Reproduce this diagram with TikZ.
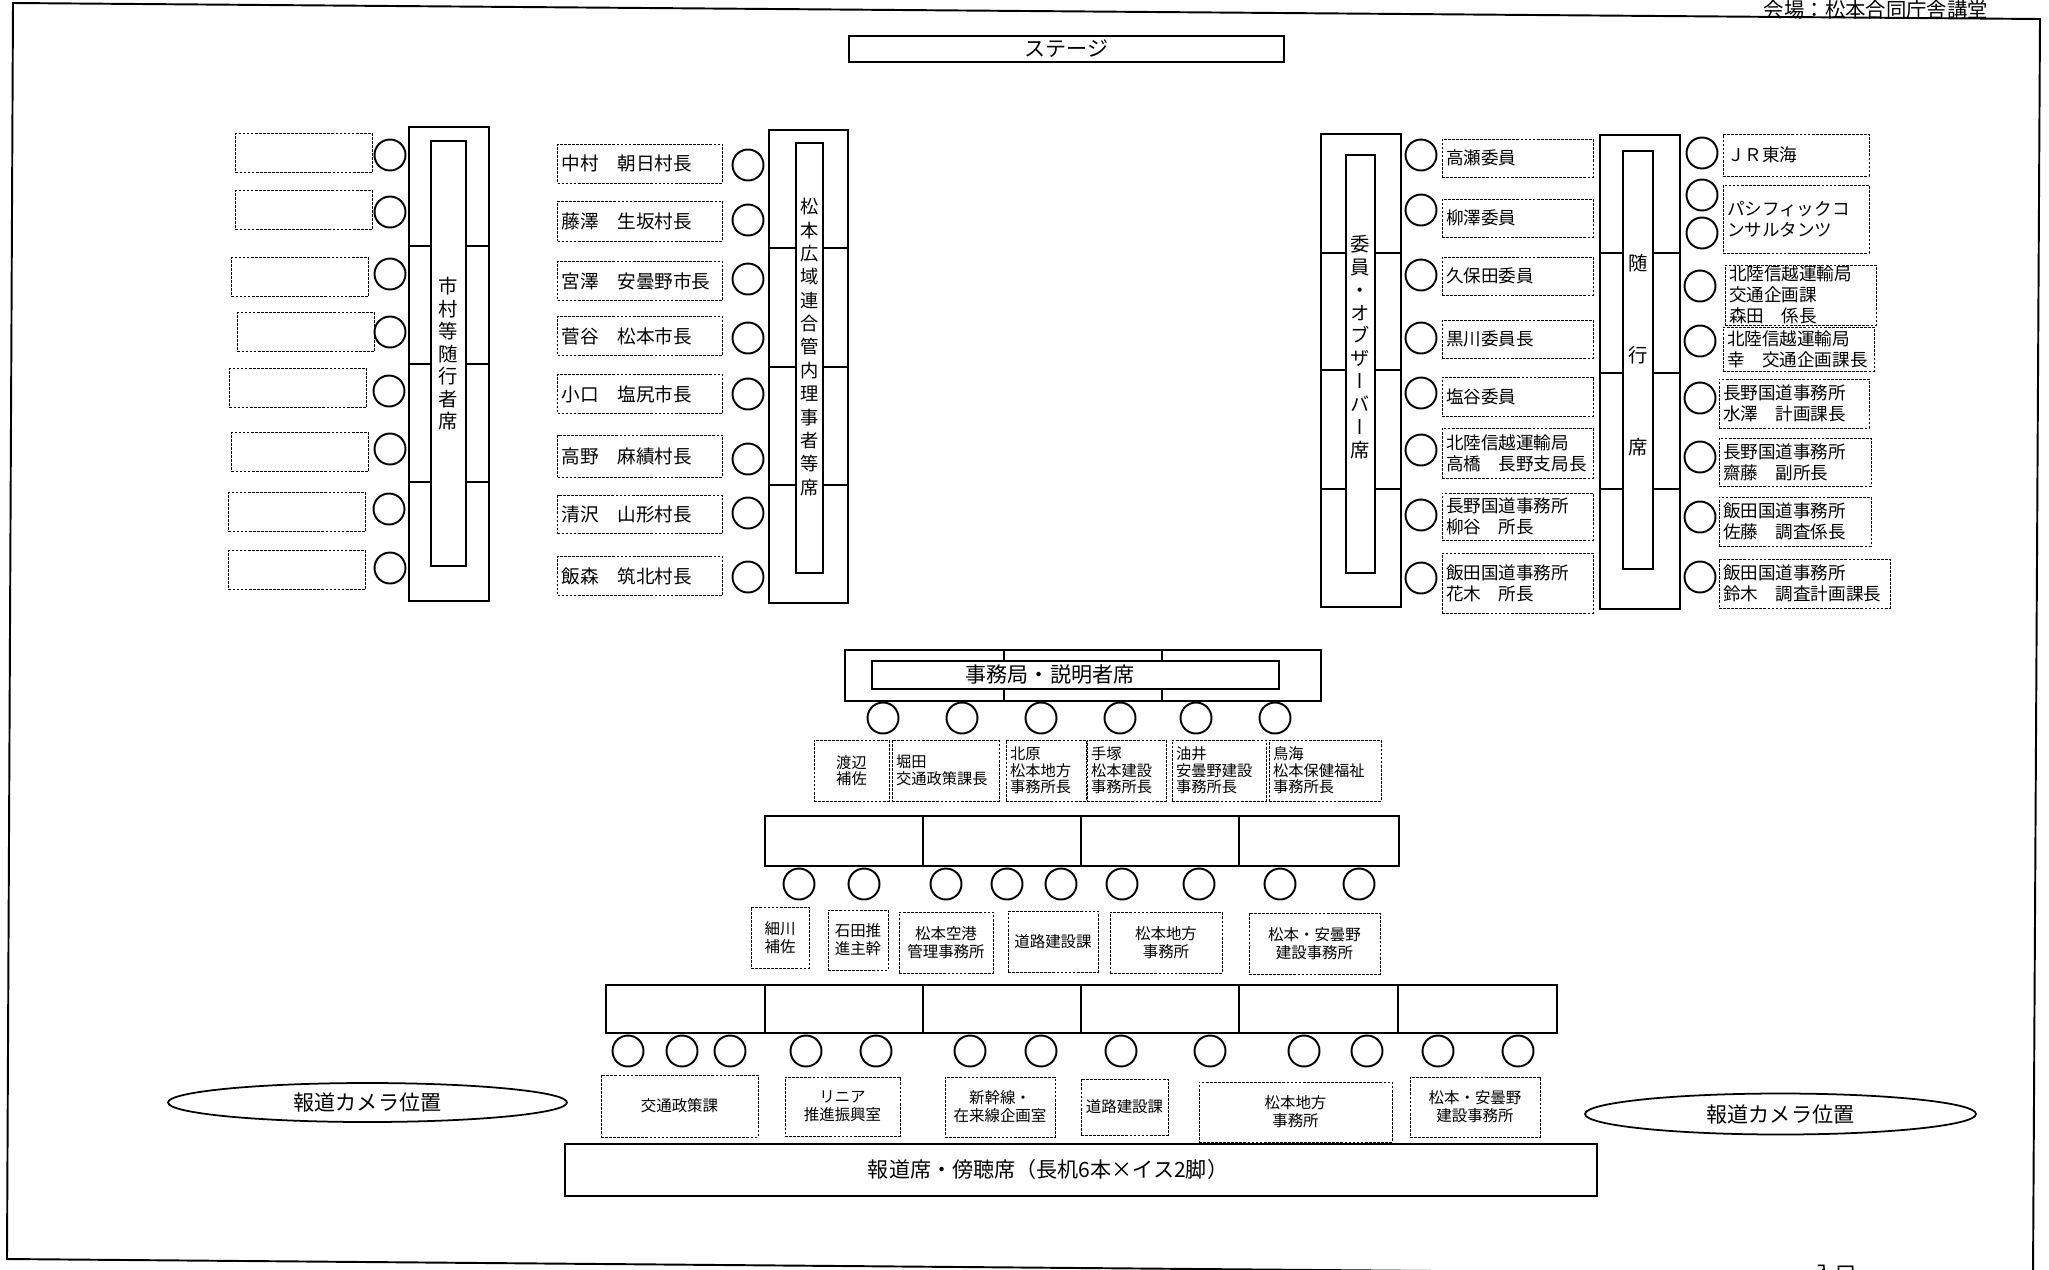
\documentclass[tikz,border=0pt]{standalone}
\usepackage{fontspec}
\setmainfont{Noto Sans CJK JP}
\newfontfamily\tatefont[RawFeature=+vert]{Noto Sans CJK JP}
\usetikzlibrary{positioning, shapes.geometric}
\newcommand\namefont{\fontsize{10}{11.8}\selectfont}
\newcommand\memofont{\fontsize{8.7}{9.4}\selectfont}
\newcommand\rowfont{\fontsize{8.8}{10.2}\selectfont}
\newcommand\deskfont{\fontsize{12}{14}\selectfont}

\begin{document}
\begin{tikzpicture}[x=0.02cm, y=-0.02cm,
    seat/.style={circle, draw, line width=1.1pt, minimum size=0.62cm, inner sep=0pt},
    card/.style={draw, line width=0.5pt, dash pattern=on 1.6pt off 0.7pt, inner xsep=0.08cm, inner ysep=0pt, font=\namefont, align=left},
    memo/.style={draw, line width=0.5pt, dash pattern=on 1.6pt off 0.7pt, inner sep=0pt, align=center},
    desk/.style={draw, line width=1.1pt, inner sep=0pt, fill=white},
    split/.style={line width=0.6pt},
    tate/.style={inner sep=0pt, align=center, font={\tatefont\fontsize{11}{12.8}\selectfont}},
    camera/.style={ellipse, draw, line width=1pt, inner sep=0pt, font=\deskfont}]
  \useasboundingbox (0,0) rectangle (2049,1269);

  % page frame and headings
  \draw[line width=1.1pt] (13,3) -- (2040,19) -- (2033,1276) -- (7,1259) -- cycle;
  \node[inner sep=0pt, font=\fontsize{11.6}{13}\selectfont] (venue) at (1876,10) {会場：松本合同庁舎講堂};
  \node[inner sep=0pt, font=\deskfont] (entrance) at (1835,1274) {入口};
  \node[desk, line width=1pt, minimum width=8.7cm, minimum height=0.52cm, font=\deskfont] (stage) at (1066.5,49) {ステージ};

  % 市村等随行者席
  \node[card, minimum width=2.74cm, minimum height=0.78cm] (cardL1) at (304,153) {};
  \node[card, minimum width=2.74cm, minimum height=0.78cm] (cardL2) at (304,210) {};
  \node[card, minimum width=2.74cm, minimum height=0.78cm] (cardL3) at (300,277) {};
  \node[card, minimum width=2.74cm, minimum height=0.78cm] (cardL4) at (306,332) {};
  \node[card, minimum width=2.74cm, minimum height=0.78cm] (cardL5) at (298,388) {};
  \node[card, minimum width=2.74cm, minimum height=0.78cm] (cardL6) at (300,452) {};
  \node[card, minimum width=2.74cm, minimum height=0.78cm] (cardL7) at (297,512) {};
  \node[card, minimum width=2.74cm, minimum height=0.78cm] (cardL8) at (297,570) {};
  \node[seat] (seatL1) at (390,155) {};
  \node[seat] (seatL2) at (390,212) {};
  \node[seat] (seatL3) at (390,274) {};
  \node[seat] (seatL4) at (390,332) {};
  \node[seat] (seatL5) at (389,391) {};
  \node[seat] (seatL6) at (390,449) {};
  \node[seat] (seatL7) at (389,509) {};
  \node[seat] (seatL8) at (390,568) {};
  \node[desk, minimum width=1.6cm, minimum height=9.48cm] (deskL) at (449,364) {};
  \draw[split] (deskL.west |- 0,246) -- (deskL.east |- 0,246);
  \draw[split] (deskL.west |- 0,364) -- (deskL.east |- 0,364);
  \draw[split] (deskL.west |- 0,482) -- (deskL.east |- 0,482);
  \node[desk, minimum width=0.7cm, minimum height=8.5cm] (deskLin) at (448.5,353.5) {};
  \node[tate] (deskLtext) at (448.5,354) {市\\村\\等\\随\\行\\者\\席};

  % 松本広域連合管内理事者等席
  \node[card, text width=3.14cm, minimum height=0.78cm, font=\fontsize{10.6}{12}\selectfont] (cardM1) at (640,163.5) {中村　朝日村長};
  \node[card, text width=3.14cm, minimum height=0.8cm,  font=\fontsize{10.6}{12}\selectfont] (cardM2) at (640,221)   {藤澤　生坂村長};
  \node[card, text width=3.14cm, minimum height=0.78cm, font=\fontsize{10.6}{12}\selectfont] (cardM3) at (640,281)   {宮澤　安曇野市長};
  \node[card, text width=3.14cm, minimum height=0.78cm, font=\fontsize{10.6}{12}\selectfont] (cardM4) at (640,336)   {菅谷　松本市長};
  \node[card, text width=3.14cm, minimum height=0.78cm, font=\fontsize{10.6}{12}\selectfont] (cardM5) at (640,394)   {小口　塩尻市長};
  \node[card, text width=3.14cm, minimum height=0.84cm, font=\fontsize{10.6}{12}\selectfont] (cardM6) at (640,456)   {高野　麻績村長};
  \node[card, text width=3.14cm, minimum height=0.76cm, font=\fontsize{10.6}{12}\selectfont] (cardM7) at (640,514.5) {清沢　山形村長};
  \node[card, text width=3.14cm, minimum height=0.78cm, font=\fontsize{10.6}{12}\selectfont] (cardM8) at (640,576)   {飯森　筑北村長};
  \node[seat] (seatM1) at (748,165) {};
  \node[seat] (seatM2) at (748,220) {};
  \node[seat] (seatM3) at (748,279) {};
  \node[seat] (seatM4) at (748,338) {};
  \node[seat] (seatM5) at (748,394) {};
  \node[seat] (seatM6) at (748,459) {};
  \node[seat] (seatM7) at (748,513) {};
  \node[seat] (seatM8) at (748,577) {};
  \node[desk, minimum width=1.58cm, minimum height=9.46cm] (deskM) at (808.5,366.5) {};
  \draw[split] (deskM.west |- 0,248) -- (deskM.east |- 0,248);
  \draw[split] (deskM.west |- 0,367) -- (deskM.east |- 0,367);
  \draw[split] (deskM.west |- 0,485) -- (deskM.east |- 0,485);
  \node[desk, minimum width=0.54cm, minimum height=8.6cm] (deskMin) at (809.5,358) {};
  \node[tate, font={\tatefont\fontsize{10.4}{13.3}\selectfont}] (deskMtext) at (809.5,347) {松\\本\\広\\域\\連\\合\\管\\内\\理\\事\\者\\等\\席};

  % 委員・オブザーバー席
  \node[desk, minimum width=1.6cm, minimum height=9.46cm] (deskC) at (1361,370.5) {};
  \draw[split] (deskC.west |- 0,253) -- (deskC.east |- 0,253);
  \draw[split] (deskC.west |- 0,370) -- (deskC.east |- 0,370);
  \draw[split] (deskC.west |- 0,489) -- (deskC.east |- 0,489);
  \node[desk, minimum width=0.58cm, minimum height=8.36cm] (deskCin) at (1360.5,364) {};
  \node[tate, font={\tatefont\fontsize{11}{13}\selectfont}] (deskCtext) at (1360.5,347) {委\\員\\・\\オ\\ブ\\ザ\\ー\\バ\\ー\\席};
  \node[seat] (seatC1) at (1421,155) {};
  \node[seat] (seatC2) at (1421,210) {};
  \node[seat] (seatC3) at (1421,275) {};
  \node[seat] (seatC4) at (1421,338) {};
  \node[seat] (seatC5) at (1421,393) {};
  \node[seat] (seatC6) at (1421,450) {};
  \node[seat] (seatC7) at (1421,515) {};
  \node[seat] (seatC8) at (1421,578) {};
  \node[card, text width=2.86cm, minimum height=0.76cm] (cardC1) at (1517.5,158)   {高瀬委員};
  \node[card, text width=2.86cm, minimum height=0.76cm] (cardC2) at (1517.5,218)   {柳澤委員};
  \node[card, text width=2.86cm, minimum height=0.76cm] (cardC3) at (1517.5,276)   {久保田委員};
  \node[card, text width=2.86cm, minimum height=0.76cm] (cardC4) at (1517.5,339)   {黒川委員長};
  \node[card, text width=2.86cm, minimum height=0.78cm] (cardC5) at (1517.5,396.5) {塩谷委員};
  \node[card, text width=2.86cm, minimum height=1.0cm]  (cardC6) at (1517.5,453)   {北陸信越運輸局\\高橋　長野支局長};
  \node[card, text width=2.86cm, minimum height=0.94cm] (cardC7) at (1517.5,516.5) {長野国道事務所\\柳谷　所長};
  \node[card, text width=2.86cm, minimum height=1.2cm]  (cardC8) at (1517.5,583)   {飯田国道事務所\\花木　所長};

  % 随行席
  \node[desk, minimum width=1.6cm, minimum height=9.48cm] (deskR) at (1640,372) {};
  \draw[split] (deskR.west |- 0,253) -- (deskR.east |- 0,253);
  \draw[split] (deskR.west |- 0,373) -- (deskR.east |- 0,373);
  \draw[split] (deskR.west |- 0,489) -- (deskR.east |- 0,489);
  \node[desk, minimum width=0.6cm, minimum height=8.36cm] (deskRin) at (1638,360) {};
  \node[tate, font={\tatefont\fontsize{11}{52.4}\selectfont}] (deskRtext) at (1638,355.5) {随\\行\\席};
  \node[seat] (seatR1) at (1702,153) {};
  \node[seat] (seatR2) at (1702,195) {};
  \node[seat] (seatR3) at (1702,233) {};
  \node[seat] (seatR4) at (1700,286) {};
  \node[seat] (seatR5) at (1700,341) {};
  \node[seat] (seatR6) at (1700,398) {};
  \node[seat] (seatR7) at (1700,457) {};
  \node[seat] (seatR8) at (1700,517) {};
  \node[seat] (seatR9) at (1700,577) {};
  \node[card, text width=2.76cm, minimum height=0.84cm] (cardR1) at (1796,155)    {ＪＲ東海};
  \node[card, text width=2.76cm, minimum height=1.36cm] (cardR2) at (1796,219)    {パシフィックコ\\ンサルタンツ};
  \node[card, text width=2.86cm, minimum height=1.2cm]  (cardR3) at (1800.5,295)  {北陸信越運輸局\\交通企画課\\森田　係長};
  \node[card, text width=2.86cm, minimum height=0.88cm] (cardR4) at (1798.5,349)  {北陸信越運輸局\\幸　交通企画課長};
  \node[card, text width=2.84cm, minimum height=0.98cm] (cardR5) at (1794,403.5)  {長野国道事務所\\水澤　計画課長};
  \node[card, text width=2.88cm, minimum height=0.96cm] (cardR6) at (1795,462)    {長野国道事務所\\齋藤　副所長};
  \node[card, text width=2.88cm, minimum height=0.98cm] (cardR7) at (1795,521.5)  {飯田国道事務所\\佐藤　調査係長};
  \node[card, text width=3.26cm, minimum height=0.98cm] (cardR8) at (1804.5,583.5) {飯田国道事務所\\鈴木　調査計画課長};

  % 事務局・説明者席
  \node[desk, minimum width=9.52cm, minimum height=1.02cm] (deskS) at (1083,675.5) {};
  \draw[split] (deskS.north -| 1004,0) -- (deskS.south -| 1004,0);
  \draw[split] (deskS.north -| 1162,0) -- (deskS.south -| 1162,0);
  \node[desk, minimum width=8.14cm, minimum height=0.56cm] (deskSin) at (1075.5,675) {};
  \node[inner sep=0pt, font=\deskfont] (deskStext) at (1050,675) {事務局・説明者席};
  \node[seat] (seatA1) at (883,718)  {};
  \node[seat] (seatA2) at (962,718)  {};
  \node[seat] (seatA3) at (1041,718) {};
  \node[seat] (seatA4) at (1120,718) {};
  \node[seat] (seatA5) at (1196,718) {};
  \node[seat] (seatA6) at (1275,718) {};
  \node[memo, minimum width=1.5cm, minimum height=1.22cm, font=\memofont] (cardA1) at (851.5,770.5) {渡辺\\補佐};
  \node[memo, align=left, inner xsep=0.08cm, text width=1.98cm, minimum height=1.22cm, font=\memofont] (cardA2) at (945.5,770.5) {堀田\\交通政策課長};
  \node[memo, align=left, inner xsep=0.08cm, text width=1.44cm, minimum height=1.22cm, font=\memofont] (cardA3) at (1046,770.5)  {北原\\松本地方\\事務所長};
  \node[memo, align=left, inner xsep=0.08cm, text width=1.42cm, minimum height=1.22cm, font=\memofont] (cardA4) at (1126.5,770.5) {手塚\\松本建設\\事務所長};
  \node[memo, align=left, inner xsep=0.08cm, text width=1.72cm, minimum height=1.22cm, font=\memofont] (cardA5) at (1219,770.5)  {油井\\安曇野建設\\事務所長};
  \node[memo, align=left, inner xsep=0.08cm, text width=2.08cm, minimum height=1.22cm, font=\memofont] (cardA6) at (1325,770.5)  {鳥海\\松本保健福祉\\事務所長};

  % second row
  \node[desk, minimum width=12.68cm, minimum height=1.0cm] (deskB) at (1082,841) {};
  \draw[split] (deskB.north -| 923,0)  -- (deskB.south -| 923,0);
  \draw[split] (deskB.north -| 1081,0) -- (deskB.south -| 1081,0);
  \draw[split] (deskB.north -| 1239,0) -- (deskB.south -| 1239,0);
  \node[seat] (seatB1) at (799,884)  {};
  \node[seat] (seatB2) at (864,884)  {};
  \node[seat] (seatB3) at (946,884)  {};
  \node[seat] (seatB4) at (1007,884) {};
  \node[seat] (seatB5) at (1061,884) {};
  \node[seat] (seatB6) at (1122,884) {};
  \node[seat] (seatB7) at (1199,884) {};
  \node[seat] (seatB8) at (1280,884) {};
  \node[seat] (seatB9) at (1359,884) {};
  \node[memo, minimum width=1.16cm, minimum height=1.22cm, font=\rowfont] (cardB1) at (780,937.5)    {細川\\補佐};
  \node[memo, minimum width=1.2cm,  minimum height=1.2cm,  font=\rowfont] (cardB2) at (858,940)      {石田推\\進主幹};
  \node[memo, minimum width=1.88cm, minimum height=1.22cm, font=\rowfont] (cardB3) at (946,942.5)    {松本空港\\管理事務所};
  \node[memo, minimum width=1.8cm,  minimum height=1.22cm, font=\rowfont] (cardB4) at (1053,941.5)   {道路建設課};
  \node[memo, minimum width=2.24cm, minimum height=1.22cm, font=\rowfont] (cardB5) at (1166,942.5)   {松本地方\\事務所};
  \node[memo, minimum width=2.62cm, minimum height=1.22cm, font=\rowfont] (cardB6) at (1314.5,943.5) {松本・安曇野\\建設事務所};

  % third row
  \node[desk, minimum width=19.02cm, minimum height=0.96cm] (deskT) at (1081.5,1009) {};
  \draw[split] (deskT.north -| 765,0)  -- (deskT.south -| 765,0);
  \draw[split] (deskT.north -| 923,0)  -- (deskT.south -| 923,0);
  \draw[split] (deskT.north -| 1081,0) -- (deskT.south -| 1081,0);
  \draw[split] (deskT.north -| 1239,0) -- (deskT.south -| 1239,0);
  \draw[split] (deskT.north -| 1398,0) -- (deskT.south -| 1398,0);
  \node[seat] (seatT1)  at (628,1051)  {};
  \node[seat] (seatT2)  at (682,1051)  {};
  \node[seat] (seatT3)  at (730,1051)  {};
  \node[seat] (seatT4)  at (806,1051)  {};
  \node[seat] (seatT5)  at (876,1051)  {};
  \node[seat] (seatT6)  at (970,1051)  {};
  \node[seat] (seatT7)  at (1041,1051) {};
  \node[seat] (seatT8)  at (1121,1051) {};
  \node[seat] (seatT9)  at (1210,1051) {};
  \node[seat] (seatT10) at (1304,1051) {};
  \node[seat] (seatT11) at (1367,1051) {};
  \node[seat] (seatT12) at (1438,1051) {};
  \node[seat] (seatT13) at (1518,1051) {};
  \node[memo, minimum width=3.14cm, minimum height=1.24cm, font=\rowfont] (cardT1) at (679.5,1106)  {交通政策課};
  \node[memo, minimum width=2.3cm,  minimum height=1.18cm, font=\rowfont] (cardT2) at (842.5,1106.5) {リニア\\推進振興室};
  \node[memo, minimum width=2.2cm,  minimum height=1.2cm,  font=\rowfont] (cardT3) at (1000,1107)   {新幹線・\\在来線企画室};
  \node[memo, minimum width=1.74cm, minimum height=1.12cm, font=\rowfont] (cardT4) at (1124.5,1107) {道路建設課};
  \node[memo, minimum width=3.86cm, minimum height=1.2cm,  font=\rowfont] (cardT5) at (1295.5,1112) {松本地方\\事務所};
  \node[memo, minimum width=2.6cm,  minimum height=1.2cm,  font=\rowfont] (cardT6) at (1475,1107)   {松本・安曇野\\建設事務所};

  % 報道席
  \node[desk, minimum width=20.64cm, minimum height=1.04cm] (press) at (1081,1170) {};
  \node[inner sep=0pt, font=\deskfont] (presstext) at (1048,1169) {報道席・傍聴席（長机6本×イス2脚）};
  \node[camera, minimum width=7.98cm, minimum height=0.78cm] (cameraL) at (367.5,1102.5) {報道カメラ位置};
  \node[camera, minimum width=7.82cm, minimum height=0.82cm] (cameraR) at (1780.5,1114)  {報道カメラ位置};
\end{tikzpicture}
\end{document}
